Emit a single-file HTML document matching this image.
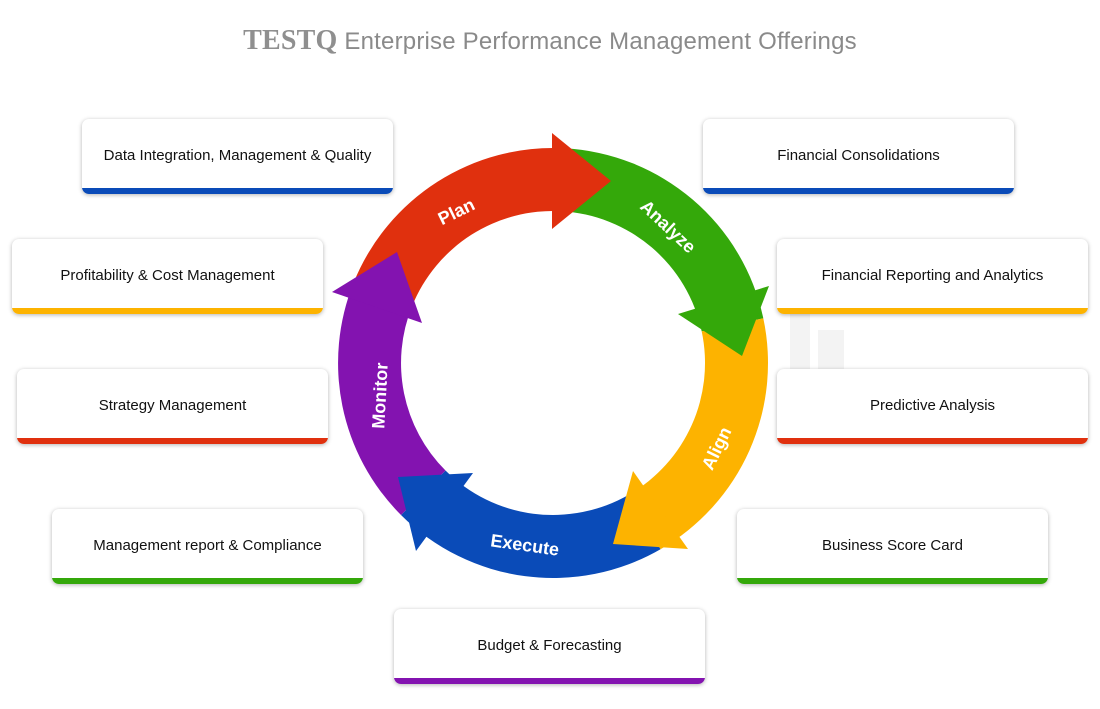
<!DOCTYPE html>
<html><head><meta charset="utf-8"><style>
html,body{margin:0;padding:0;background:#fff;}
body{width:1100px;height:709px;position:relative;overflow:hidden;font-family:"Liberation Sans",sans-serif;}
.t{position:absolute;top:25px;left:0;width:1100px;text-align:center;color:#8a8a8a;font-size:24px;white-space:nowrap;letter-spacing:0.2px;}
.t b{font-family:"Liberation Serif",serif;font-size:28px;color:#8f8f8f;}
.box{position:absolute;width:311px;height:75px;background:#fff;border-radius:7px;box-shadow:0 1px 4px rgba(0,0,0,.3);overflow:hidden;box-sizing:border-box;}
.box span{position:absolute;left:0;right:0;top:28px;text-align:center;font-size:15px;color:#111;}
.box i{position:absolute;left:0;right:0;bottom:0;height:6px;}
.wm{position:absolute;background:#f3f3f3;}
svg{position:absolute;left:0;top:0;}
</style></head><body>
<div class="t"><b>TESTQ</b> Enterprise Performance Management Offerings</div>
<div class="wm" style="left:790px;top:300px;width:20px;height:85px"></div>
<div class="wm" style="left:818px;top:330px;width:26px;height:55px"></div>
<div class="box" style="left:82px;top:119px"><span>Data Integration, Management &amp; Quality</span><i style="background:#0a4bb8"></i></div>
<div class="box" style="left:703px;top:119px"><span>Financial Consolidations</span><i style="background:#0a4bb8"></i></div>
<div class="box" style="left:12px;top:239px"><span>Profitability &amp; Cost Management</span><i style="background:#fdb300"></i></div>
<div class="box" style="left:777px;top:239px"><span>Financial Reporting and Analytics</span><i style="background:#fdb300"></i></div>
<div class="box" style="left:17px;top:369px"><span>Strategy Management</span><i style="background:#e0300e"></i></div>
<div class="box" style="left:777px;top:369px"><span>Predictive Analysis</span><i style="background:#e0300e"></i></div>
<div class="box" style="left:52px;top:509px"><span>Management report &amp; Compliance</span><i style="background:#34a80a"></i></div>
<div class="box" style="left:737px;top:509px"><span>Business Score Card</span><i style="background:#34a80a"></i></div>
<div class="box" style="left:394px;top:609px"><span>Budget &amp; Forecasting</span><i style="background:#8313b0"></i></div>
<svg width="1100" height="709" viewBox="0 0 1100 709">
<path d="M353.7,282.5 A215,215 0 0 1 564.2,148.3 L561,211.2 A152,152 0 0 0 412.1,306.1 Z" fill="#e0300e"/>
<path d="M564.2,148.3 A215,215 0 0 1 763.3,318.3 L701.7,331.4 A152,152 0 0 0 561,211.2 Z" fill="#34a80a"/>
<path d="M763.3,318.3 A215,215 0 0 1 660.5,549.2 L629,494.6 A152,152 0 0 0 701.7,331.4 Z" fill="#fdb300"/>
<path d="M660.5,549.2 A215,215 0 0 1 401,515 L445.5,470.5 A152,152 0 0 0 629,494.6 Z" fill="#0a4bb8"/>
<path d="M401,515 A215,215 0 0 1 353.7,282.5 L412.1,306.1 A152,152 0 0 0 445.5,470.5 Z" fill="#8313b0"/>
<polygon points="552,133 611,181 552,229" fill="#e0300e"/>
<polygon points="769,286 742,356 678,314" fill="#34a80a"/>
<polygon points="633,471 688,549 613,544" fill="#fdb300"/>
<polygon points="473,473 416,551 398,477" fill="#0a4bb8"/>
<polygon points="397,252 422,323 332,292" fill="#8313b0"/>
<g fill="#fff" font-family="Liberation Sans, sans-serif" font-size="18" font-weight="bold" text-anchor="middle">
<text transform="translate(459,217) rotate(-26)">Plan</text>
<text transform="translate(664,231) rotate(43)">Analyze</text>
<text transform="translate(722,451) rotate(-64)">Align</text>
<text transform="translate(524,551) rotate(8)">Execute</text>
<text transform="translate(386,396) rotate(-87)">Monitor</text>
</g>
</svg>
</body></html>
